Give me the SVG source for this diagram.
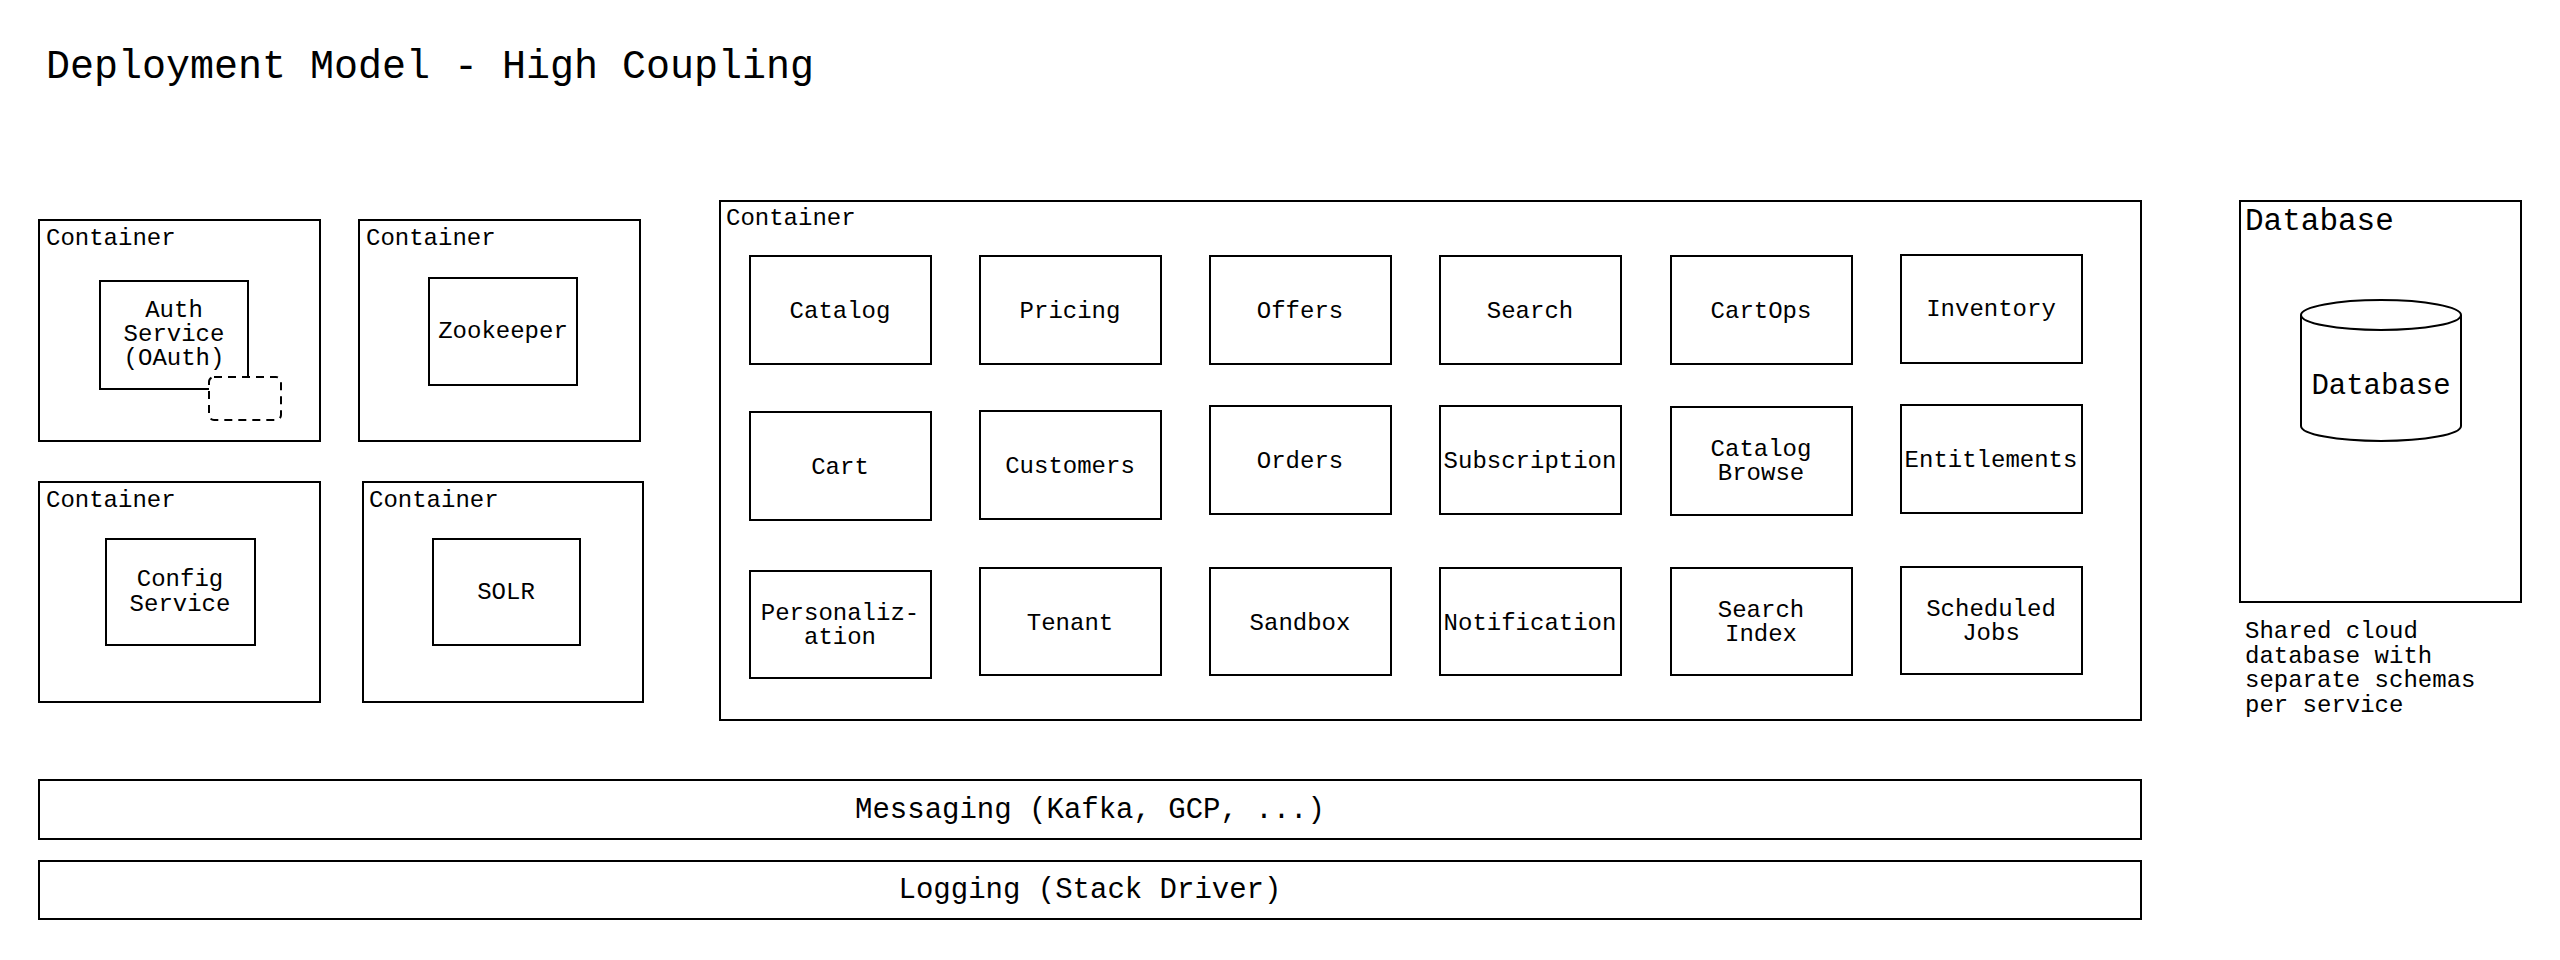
<svg xmlns="http://www.w3.org/2000/svg" width="2560" height="960" viewBox="0 0 2560 960">
<style>
rect{fill:#fff;stroke:#000;stroke-width:2}
text{font-family:"Liberation Mono","DejaVu Sans Mono",monospace;font-size:24px;fill:#000}
.c{text-anchor:middle}
.dash{stroke-dasharray:8 6}
</style>
<rect x="0" y="0" width="2560" height="960" style="stroke:none"/>
<text x="46" y="78" style="font-size:40px">Deployment Model - High Coupling</text>
<g id="c1"><rect x="39" y="220" width="281" height="221"/><text x="46" y="245">Container</text></g>
<g id="auth"><rect x="100" y="281" width="148" height="108"/><text class="c" x="174" y="317">Auth</text><text class="c" x="174" y="341">Service</text><text class="c" x="174" y="365">(OAuth)</text></g>
<g id="authport"><rect class="dash" x="209" y="377" width="72" height="43" rx="5"/></g>
<g id="c2"><rect x="359" y="220" width="281" height="221"/><text x="366" y="245">Container</text></g>
<g id="zk"><rect x="429" y="278" width="148" height="107"/><text class="c" x="503" y="338">Zookeeper</text></g>
<g id="c3"><rect x="39" y="482" width="281" height="220"/><text x="46" y="507">Container</text></g>
<g id="config"><rect x="106" y="539" width="149" height="106"/><text class="c" x="180" y="586">Config</text><text class="c" x="180" y="611">Service</text></g>
<g id="c4"><rect x="363" y="482" width="280" height="220"/><text x="369" y="507">Container</text></g>
<g id="solr"><rect x="433" y="539" width="147" height="106"/><text class="c" x="506" y="599">SOLR</text></g>
<g id="big"><rect x="720" y="201" width="1421" height="519"/><text x="726" y="225">Container</text></g>
<g id="catalog"><rect x="750" y="256" width="181" height="108"/><text class="c" x="840" y="318">Catalog</text></g>
<g id="pricing"><rect x="980" y="256" width="181" height="108"/><text class="c" x="1070" y="318">Pricing</text></g>
<g id="offers"><rect x="1210" y="256" width="181" height="108"/><text class="c" x="1300" y="318">Offers</text></g>
<g id="search"><rect x="1440" y="256" width="181" height="108"/><text class="c" x="1530" y="318">Search</text></g>
<g id="cartops"><rect x="1671" y="256" width="181" height="108"/><text class="c" x="1761" y="318">CartOps</text></g>
<g id="inventory"><rect x="1901" y="255" width="181" height="108"/><text class="c" x="1991" y="316">Inventory</text></g>
<g id="cart"><rect x="750" y="412" width="181" height="108"/><text class="c" x="840" y="474">Cart</text></g>
<g id="customers"><rect x="980" y="411" width="181" height="108"/><text class="c" x="1070" y="473">Customers</text></g>
<g id="orders"><rect x="1210" y="406" width="181" height="108"/><text class="c" x="1300" y="468">Orders</text></g>
<g id="subscription"><rect x="1440" y="406" width="181" height="108"/><text class="c" x="1530" y="468">Subscription</text></g>
<g id="catbrowse"><rect x="1671" y="407" width="181" height="108"/><text class="c" x="1761" y="456">Catalog</text><text class="c" x="1761" y="480">Browse</text></g>
<g id="entitlements"><rect x="1901" y="405" width="181" height="108"/><text class="c" x="1991" y="467">Entitlements</text></g>
<g id="personalization"><rect x="750" y="571" width="181" height="107"/><text class="c" x="840" y="620">Personaliz-</text><text class="c" x="840" y="644">ation</text></g>
<g id="tenant"><rect x="980" y="568" width="181" height="107"/><text class="c" x="1070" y="630">Tenant</text></g>
<g id="sandbox"><rect x="1210" y="568" width="181" height="107"/><text class="c" x="1300" y="630">Sandbox</text></g>
<g id="notification"><rect x="1440" y="568" width="181" height="107"/><text class="c" x="1530" y="630">Notification</text></g>
<g id="searchindex"><rect x="1671" y="568" width="181" height="107"/><text class="c" x="1761" y="617">Search</text><text class="c" x="1761" y="641">Index</text></g>
<g id="jobs"><rect x="1901" y="567" width="181" height="107"/><text class="c" x="1991" y="616">Scheduled</text><text class="c" x="1991" y="640">Jobs</text></g>
<g id="dbbox"><rect x="2240" y="201" width="281" height="401"/><text x="2245" y="230" style="font-size:31px">Database</text></g>
<g id="db">
<path d="M2301,315 L2301,426 A80,15 0 0 0 2461,426 L2461,315 A80,15 0 0 0 2301,315 A80,15 0 0 0 2461,315" fill="#fff" stroke="#000" stroke-width="2"/>
<text class="c" x="2381" y="394" style="font-size:29px">Database</text></g>
<g id="dbnote"><text x="2245" y="638">Shared cloud</text><text x="2245" y="663">database with</text><text x="2245" y="687">separate schemas</text><text x="2245" y="712">per service</text></g>
<g id="messaging"><rect x="39" y="780" width="2102" height="59"/><text class="c" x="1090" y="818" style="font-size:29px">Messaging (Kafka, GCP, ...)</text></g>
<g id="logging"><rect x="39" y="861" width="2102" height="58"/><text class="c" x="1090" y="898" style="font-size:29px">Logging (Stack Driver)</text></g>
<g id="connectors"></g>
</svg>
